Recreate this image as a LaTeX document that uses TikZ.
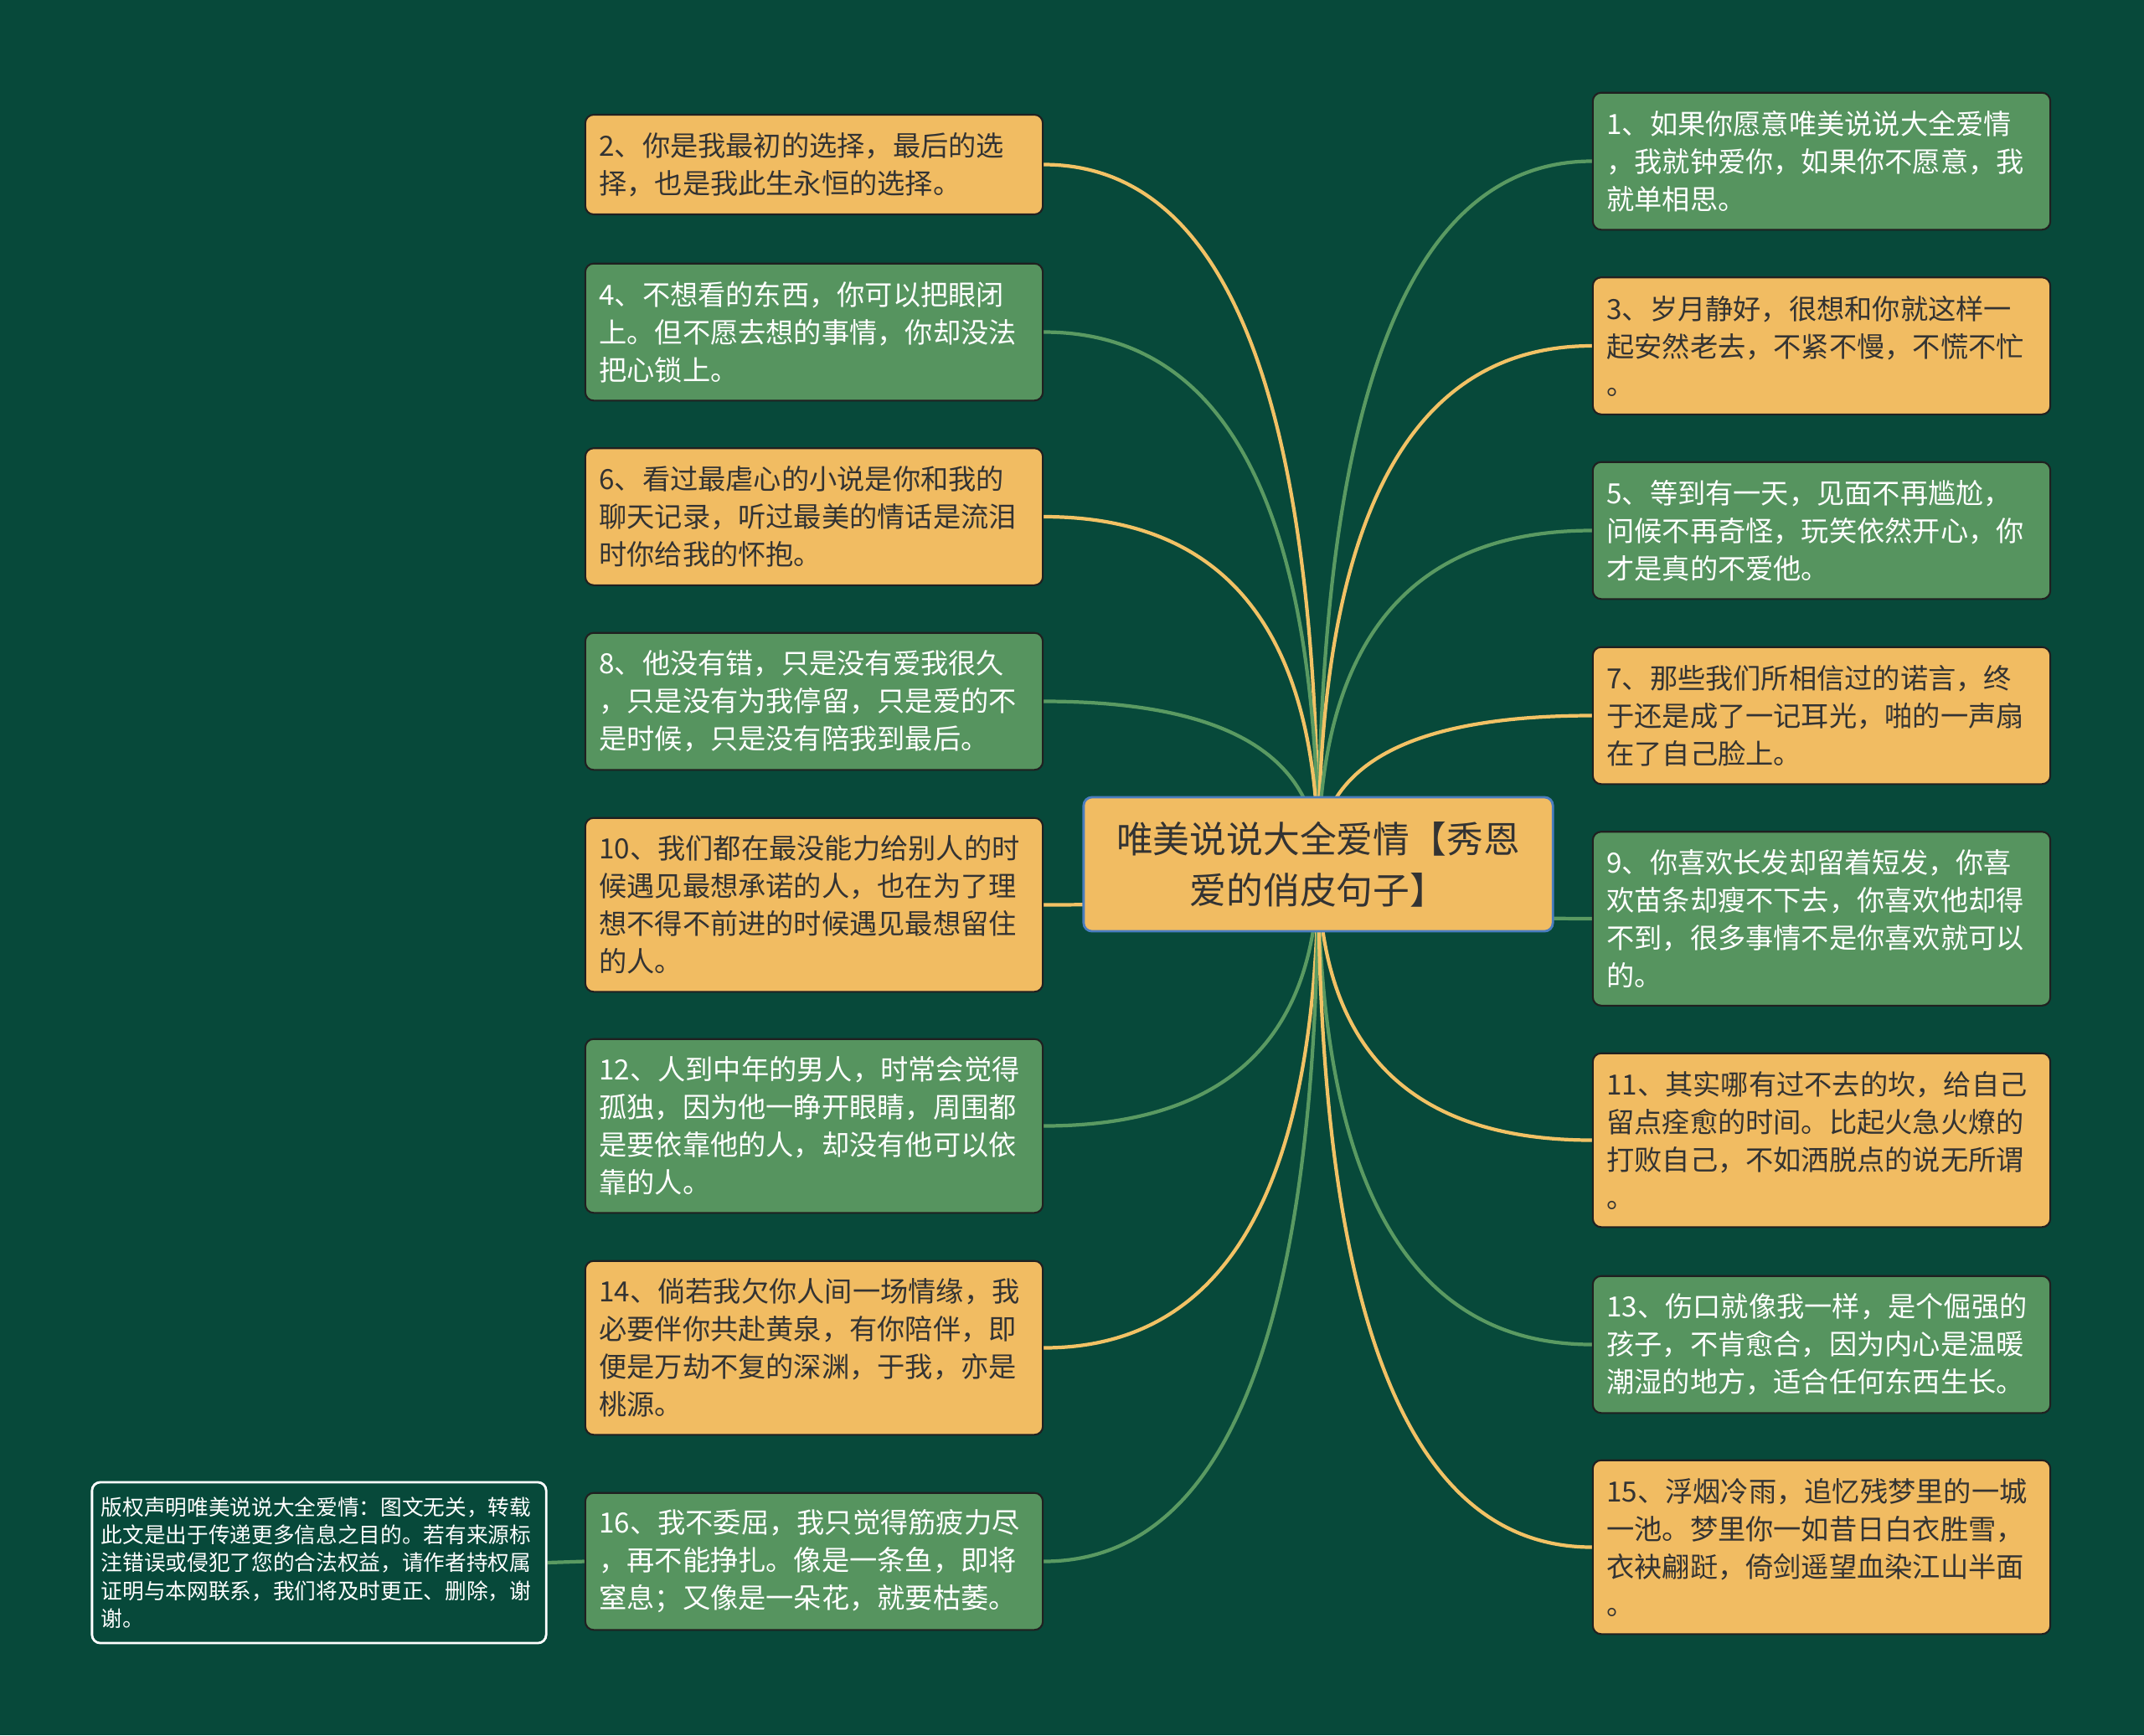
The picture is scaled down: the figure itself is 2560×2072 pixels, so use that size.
\documentclass[tikz,border=0pt]{standalone}
\usepackage{fontspec}
\setmainfont{Noto Sans CJK SC}
\usetikzlibrary{calc,backgrounds}
\definecolor{bgdark}{HTML}{07493A}
\definecolor{leaforange}{HTML}{F1BC62}
\definecolor{leafgreen}{HTML}{56945F}
\definecolor{rimdark}{HTML}{202020}
\definecolor{hubrim}{HTML}{4A7DBF}
\definecolor{inkdark}{HTML}{333333}
\definecolor{wireorange}{HTML}{F2C265}
\definecolor{wiregreen}{HTML}{5A9A62}
\begin{document}
\begin{tikzpicture}[x=.01cm,y=-.01cm,
  leaf/.style={draw=rimdark,line width=.6pt,rounded corners=.1cm,text width=5.13cm,
    inner xsep=.165cm,inner ysep=0pt,align=left,font=\fontsize{9.45pt}{12.8pt}\selectfont},
  obox/.style={leaf,fill=leaforange,text=inkdark},
  gbox/.style={leaf,fill=leafgreen,text=white},
  rows2/.style={minimum height=1.19cm},
  rows3/.style={minimum height=1.635cm},
  rows4/.style={minimum height=2.075cm},
  wire/.style={line width=1.2pt}]
  \useasboundingbox (0,0) rectangle (2560,2072);
  \node[draw=hubrim,line width=.8pt,fill=leaforange,text=inkdark,rounded corners=.1cm,
    text width=5.2cm,inner xsep=.2cm,minimum height=1.6cm,align=center,
    font=\fontsize{12.45pt}{17.35pt}\selectfont] (hub) at (1574,1032)
    {唯美说说大全爱情【秀恩\\爱的俏皮句子】};
  % left column
  \node[obox,rows2] (b2) at (972,196.5) {2、你是我最初的选择，最后的选\\择，也是我此生永恒的选择。};
  \node[gbox,rows3] (b4) at (972,396.5) {4、不想看的东西，你可以把眼闭\\上。但不愿去想的事情，你却没法\\把心锁上。};
  \node[obox,rows3] (b6) at (972,617) {6、看过最虐心的小说是你和我的\\聊天记录，听过最美的情话是流泪\\时你给我的怀抱。};
  \node[gbox,rows3] (b8) at (972,837.5) {8、他没有错，只是没有爱我很久\\，只是没有为我停留，只是爱的不\\是时候，只是没有陪我到最后。};
  \node[obox,rows4] (b10) at (972,1080.5) {10、我们都在最没能力给别人的时\\候遇见最想承诺的人，也在为了理\\想不得不前进的时候遇见最想留住\\的人。};
  \node[gbox,rows4] (b12) at (972,1344.5) {12、人到中年的男人，时常会觉得\\孤独，因为他一睁开眼睛，周围都\\是要依靠他的人，却没有他可以依\\靠的人。};
  \node[obox,rows4] (b14) at (972,1609.5) {14、倘若我欠你人间一场情缘，我\\必要伴你共赴黄泉，有你陪伴，即\\便是万劫不复的深渊，于我，亦是\\桃源。};
  \node[gbox,rows3] (b16) at (972,1864.5) {16、我不委屈，我只觉得筋疲力尽\\，再不能挣扎。像是一条鱼，即将\\窒息；又像是一朵花，就要枯萎。};
  % right column
  \node[gbox,rows3] (b1) at (2175,192.5) {1、如果你愿意唯美说说大全爱情\\，我就钟爱你，如果你不愿意，我\\就单相思。};
  \node[obox,rows3] (b3) at (2175,413) {3、岁月静好，很想和你就这样一\\起安然老去，不紧不慢，不慌不忙\\。};
  \node[gbox,rows3] (b5) at (2175,633.5) {5、等到有一天，见面不再尴尬，\\问候不再奇怪，玩笑依然开心，你\\才是真的不爱他。};
  \node[obox,rows3] (b7) at (2175,854.5) {7、那些我们所相信过的诺言，终\\于还是成了一记耳光，啪的一声扇\\在了自己脸上。};
  \node[gbox,rows4] (b9) at (2175,1097) {9、你喜欢长发却留着短发，你喜\\欢苗条却瘦不下去，你喜欢他却得\\不到，很多事情不是你喜欢就可以\\的。};
  \node[obox,rows4] (b11) at (2175,1361.5) {11、其实哪有过不去的坎，给自己\\留点痊愈的时间。比起火急火燎的\\打败自己，不如洒脱点的说无所谓\\。};
  \node[gbox,rows3] (b13) at (2175,1605.5) {13、伤口就像我一样，是个倔强的\\孩子，不肯愈合，因为内心是温暖\\潮湿的地方，适合任何东西生长。};
  \node[obox,rows4] (b15) at (2175,1847.5) {15、浮烟冷雨，追忆残梦里的一城\\一池。梦里你一如昔日白衣胜雪，\\衣袂翩跹，倚剑遥望血染江山半面\\。};
  \node[draw=white,line width=.8pt,fill=bgdark,text=white,rounded corners=.1cm,
    text width=5.2cm,inner xsep=.11cm,minimum height=1.92cm,align=left,
    font=\fontsize{7.3pt}{9.4pt}\selectfont] (note) at (381,1866)
    {版权声明唯美说说大全爱情：图文无关，转载\\此文是出于传递更多信息之目的。若有来源标\\注错误或侵犯了您的合法权益，请作者持权属\\证明与本网联系，我们将及时更正、删除，谢\\谢。};
  \begin{scope}[on background layer]
    \fill[bgdark] (0,0) rectangle (2560,2072);
    \foreach \nd/\an/\col in {b2/east/wireorange,b4/east/wiregreen,b6/east/wireorange,
        b8/east/wiregreen,b10/east/wireorange,b12/east/wiregreen,b14/east/wireorange,
        b16/east/wiregreen,b1/west/wiregreen,b3/west/wireorange,b5/west/wiregreen,
        b7/west/wireorange,b9/west/wiregreen,b11/west/wireorange,b13/west/wiregreen,
        b15/west/wireorange} {
      \coordinate (k) at (hub.center |- \nd.\an);
      \draw[wire,\col] (hub.center) .. controls ($(hub.center)!.667!(k)$)
        and ($(\nd.\an)!.667!(k)$) .. (\nd.\an);
    }
    \draw[wire,wiregreen] (note.east) -- (b16.west);
  \end{scope}
\end{tikzpicture}
\end{document}
